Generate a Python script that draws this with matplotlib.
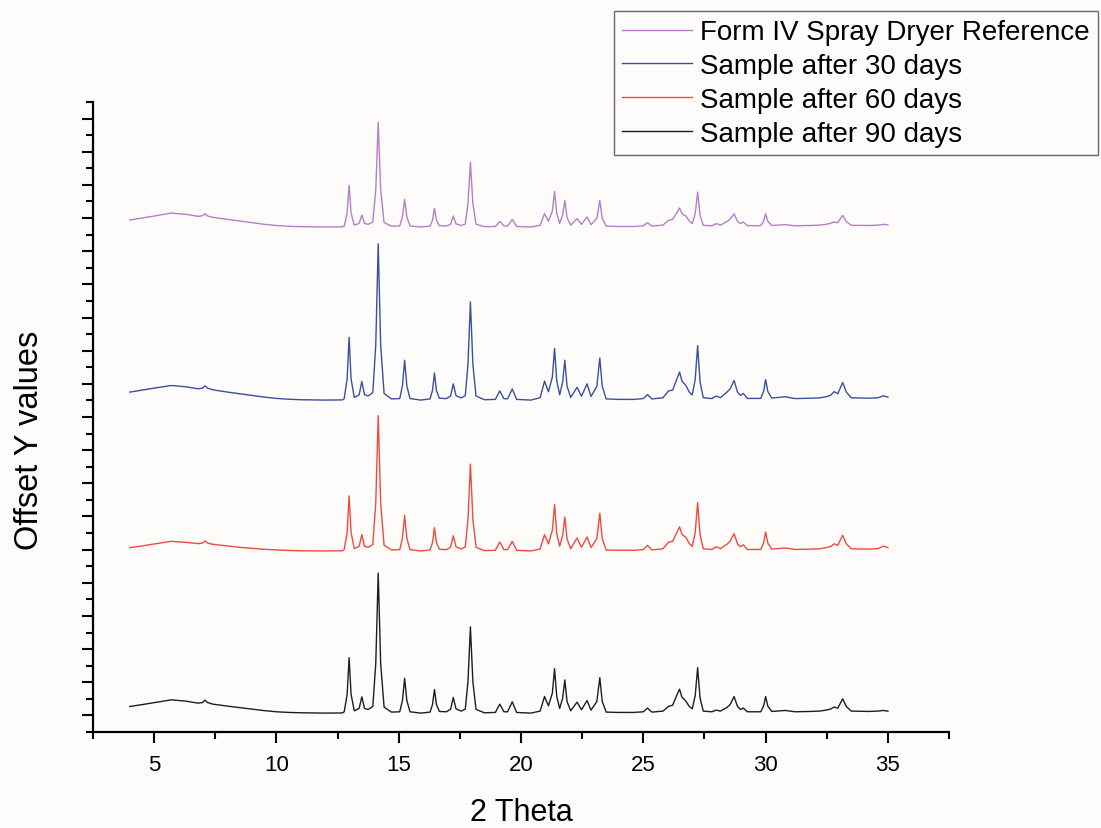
import numpy as np
import matplotlib.pyplot as plt
from matplotlib.ticker import MultipleLocator, NullFormatter

plt.rcParams['font.family'] = ['Liberation Sans', 'DejaVu Sans']

# 2 theta grid (degrees) shared by all four patterns
two_theta = [
    4.00, 4.50, 5.00, 5.70, 6.30, 6.80, 6.98, 7.08, 7.18, 7.40,
    8.00, 8.50, 9.00, 9.50, 10.00, 10.50, 11.00, 12.00, 12.70,
    12.77, 12.89, 12.97, 13.05, 13.18,
    13.38, 13.49, 13.60, 13.75,
    13.94, 14.06, 14.16, 14.26, 14.40, 14.70,
    15.04, 15.15, 15.24, 15.33, 15.46, 15.90,
    16.28, 16.38, 16.46, 16.54, 16.66, 16.95,
    17.12, 17.23, 17.34, 17.55,
    17.72, 17.83, 17.93, 18.03, 18.16, 18.50,
    18.95, 19.13, 19.30, 19.45, 19.64, 19.82, 20.40,
    20.78, 20.96, 21.12,
    21.28, 21.37, 21.46, 21.58,
    21.70, 21.79, 21.88, 22.03,
    22.29, 22.47, 22.70, 22.86,
    23.10, 23.22, 23.32, 23.48, 24.00, 24.60,
    25.00, 25.17, 25.35, 25.80,
    26.03, 26.20, 26.38, 26.48, 26.58, 26.74, 26.88, 27.00,
    27.12, 27.22, 27.32, 27.45, 27.80, 27.98, 28.15,
    28.44, 28.55, 28.71, 28.85, 28.97, 29.09, 29.25,
    29.80, 29.92, 30.00, 30.09, 30.25, 30.80, 31.20, 31.84,
    32.20, 32.47, 32.65, 32.80, 32.95, 33.15, 33.30, 33.50,
    34.20, 34.60, 34.81, 35.00,
]

# intensities (counts), above its own baseline
days90 = [
    200, 255, 315, 400, 360, 300, 320, 390, 320, 270,
    210, 165, 120, 75, 40, 20, 10, 0, 5,
    40, 570, 1670, 570, 70,
    140, 490, 140, 110,
    200, 1500, 4220, 1500, 180, 30,
    40, 380, 1050, 380, 40, 0,
    30, 260, 710, 260, 50, 40,
    120, 470, 130, 60,
    120, 950, 2600, 950, 110, 10,
    20, 270, 40, 40, 340, 20, 0,
    60, 500, 220,
    600, 1340, 500, 140,
    450, 1000, 350, 70,
    330, 100, 380, 90,
    350, 1070, 350, 30, 20, 20,
    40, 150, 30, 60,
    200, 240, 560, 720, 480, 360, 200, 130,
    520, 1370, 450, 60, 40, 90, 60,
    180, 260, 500, 200, 110, 150, 40,
    40, 220, 500, 210, 50, 80, 40, 50,
    60, 90, 120, 180, 150, 430, 200, 60,
    50, 60, 80, 60,
]

days60 = [
    100, 150, 210, 290, 260, 220, 240, 300, 240, 200,
    150, 110, 80, 50, 30, 15, 5, 0, 5,
    40, 560, 1660, 560, 70,
    140, 490, 140, 110,
    195, 1450, 4080, 1450, 175, 30,
    40, 385, 1070, 385, 40, 0,
    30, 255, 700, 255, 50, 40,
    115, 460, 125, 60,
    120, 955, 2620, 955, 110, 10,
    20, 270, 40, 40, 290, 20, 0,
    60, 490, 215,
    625, 1400, 520, 145,
    460, 1020, 360, 70,
    390, 110, 420, 100,
    370, 1140, 370, 30, 20, 20,
    40, 170, 30, 65,
    265, 290, 570, 730, 500, 410, 220, 140,
    555, 1460, 480, 65, 45, 125, 70,
    215, 300, 520, 210, 130, 185, 45,
    45, 250, 570, 240, 55, 90, 45, 55,
    65, 100, 130, 215, 170, 470, 215, 65,
    55, 70, 145, 100,
]

days30 = [
    240, 300, 360, 440, 400, 340, 360, 430, 360, 310,
    240, 190, 140, 90, 50, 25, 10, 0, 5,
    45, 640, 1890, 640, 80,
    160, 560, 160, 125,
    225, 1670, 4710, 1670, 200, 35,
    45, 430, 1200, 430, 45, 0,
    35, 295, 815, 295, 55, 45,
    125, 490, 135, 65,
    135, 1080, 2960, 1080, 125, 10,
    20, 275, 40, 40, 335, 20, 0,
    70, 570, 250,
    695, 1555, 580, 160,
    540, 1200, 420, 80,
    385, 115, 490, 110,
    415, 1270, 415, 35, 20, 20,
    45, 165, 35, 70,
    275, 300, 650, 845, 570, 440, 240, 155,
    620, 1640, 540, 70, 45, 120, 70,
    255, 340, 590, 240, 140, 200, 50,
    50, 270, 620, 260, 60, 100, 45, 55,
    65, 100, 140, 255, 190, 530, 240, 70,
    55, 70, 130, 90,
]

reference = [
    210, 270, 330, 420, 380, 320, 340, 400, 330, 290,
    230, 180, 130, 80, 45, 20, 10, 0, 5,
    30, 425, 1250, 425, 55,
    105, 360, 105, 80,
    150, 1120, 3150, 1120, 135, 25,
    30, 300, 830, 300, 30, 0,
    25, 205, 560, 205, 40, 30,
    85, 330, 95, 45,
    90, 710, 1950, 710, 85, 10,
    15, 170, 30, 30, 230, 15, 0,
    50, 400, 175,
    480, 1070, 400, 110,
    360, 800, 280, 55,
    250, 80, 300, 70,
    260, 800, 260, 25, 15, 15,
    35, 130, 25, 55,
    200, 230, 450, 570, 400, 330, 180, 100,
    400, 1050, 345, 50, 35, 100, 55,
    170, 240, 400, 165, 100, 150, 40,
    40, 175, 400, 170, 45, 70, 35, 45,
    55, 80, 110, 150, 130, 350, 160, 50,
    45, 55, 80, 60,
]

labels = ["Form IV Spray Dryer Reference", "Sample after 30 days",
          "Sample after 60 days", "Sample after 90 days"]
offsets = [14730, 9510, 4960, 70]
colors = ["#b57fc8", "#3c4f9e", "#ef4b3c", "#1e1e1e"]

fig = plt.figure(figsize=(11.01, 8.29), dpi=100, facecolor="#fdfcfa")
ax = fig.add_axes([0.0845, 0.1158, 0.7775, 0.76])
ax.set_facecolor("#fdfcfa")

x = np.array(two_theta)
for ys, off, col, lab in zip([reference, days30, days60, days90], offsets, colors, labels):
    ax.plot(x, np.array(ys) + off, color=col, lw=1.0, label=lab)

ax.set_xlim(2.5, 37.5)
ax.set_ylim(-500, 18500)
ax.xaxis.set_major_locator(MultipleLocator(5))
ax.xaxis.set_minor_locator(MultipleLocator(2.5))
ax.yaxis.set_major_locator(MultipleLocator(1000))
ax.yaxis.set_minor_locator(MultipleLocator(500))
ax.yaxis.set_major_formatter(NullFormatter())

for s in ["top", "right"]:
    ax.spines[s].set_visible(False)
for s in ["left", "bottom"]:
    ax.spines[s].set_linewidth(1.6)
ax.tick_params(which="major", direction="out", length=8, width=1.5, labelsize=16, pad=8)
ax.tick_params(which="minor", direction="out", length=5, width=1.5)

ax.set_xlabel("2 Theta", fontsize=22, labelpad=16)
fig.text(30 / 1101, 1 - 440 / 829, "Offset Y values", rotation=90,
         ha="center", va="center", fontsize=23.5)

leg = fig.legend(loc="upper right", bbox_to_anchor=(0.9973, 0.9855), fontsize=20,
                 frameon=True, fancybox=False, edgecolor="#444444",
                 handlelength=2.5, handletextpad=0.3, labelspacing=0.28,
                 borderpad=0.3, borderaxespad=0)
leg.get_frame().set_linewidth(1.0)
leg.get_frame().set_facecolor("#fdfcfa")

fig.savefig("out.png", dpi=100, facecolor=fig.get_facecolor())
